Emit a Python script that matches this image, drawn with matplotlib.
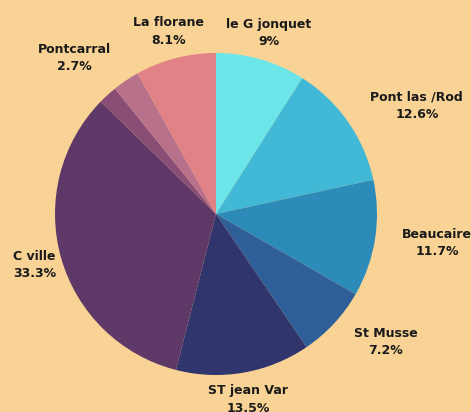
import matplotlib
matplotlib.use('Agg')
import matplotlib.pyplot as plt
import numpy as np

names = ['le G jonquet', 'Pont las /Rod', 'Beaucaire', 'St Musse', 'ST jean Var',
         'C ville', '', 'Pontcarral', 'La florane']
share = [9, 12.6, 11.7, 7.2, 13.5, 33.3, 1.9, 2.7, 8.1]
pct_text = ['9%', '12.6%', '11.7%', '7.2%', '13.5%', '33.3%', '', '2.7%', '8.1%']
colors = ['#6CE5E8', '#41B8D5', '#2D8BBA', '#2F5F98', '#31356E',
          '#5E3967', '#8A4D76', '#B8718A', '#E08286']

# how each label hangs off its anchor point
label_ha = ['center', 'left', 'left', 'left', 'center', 'center', 'center', 'right', 'center']

bg = '#F8D395'
fig = plt.figure(figsize=(4.71, 4.12), dpi=100)
fig.patch.set_facecolor(bg)
ax = fig.add_axes([0, 0, 1, 1])
ax.set_facecolor(bg)

wedges, _ = ax.pie(share, colors=colors, startangle=90, counterclock=False,
                   radius=1, wedgeprops=dict(linewidth=0))

# pie centre sits at (216, 214) px from the top left, radius 161 px
r = 161
ax.set_aspect('auto')
ax.set_xlim(-216 / r, (471 - 216) / r)
ax.set_ylim(-198 / r, (412 - 198) / r)
ax.axis('off')

for w, name, p, ha in zip(wedges, names, pct_text, label_ha):
    if name == '':
        continue
    mid = np.deg2rad((w.theta1 + w.theta2) / 2)
    x = 1.17 * np.cos(mid)
    y = 1.17 * np.sin(mid)
    ax.text(x, y, name + '\n' + p, ha=ha, va='center', multialignment='center',
            fontsize=9, fontweight='bold', color='#1a1a1a', linespacing=1.45,
            family='DejaVu Sans')

plt.savefig('out.png', dpi=100, facecolor=bg)
